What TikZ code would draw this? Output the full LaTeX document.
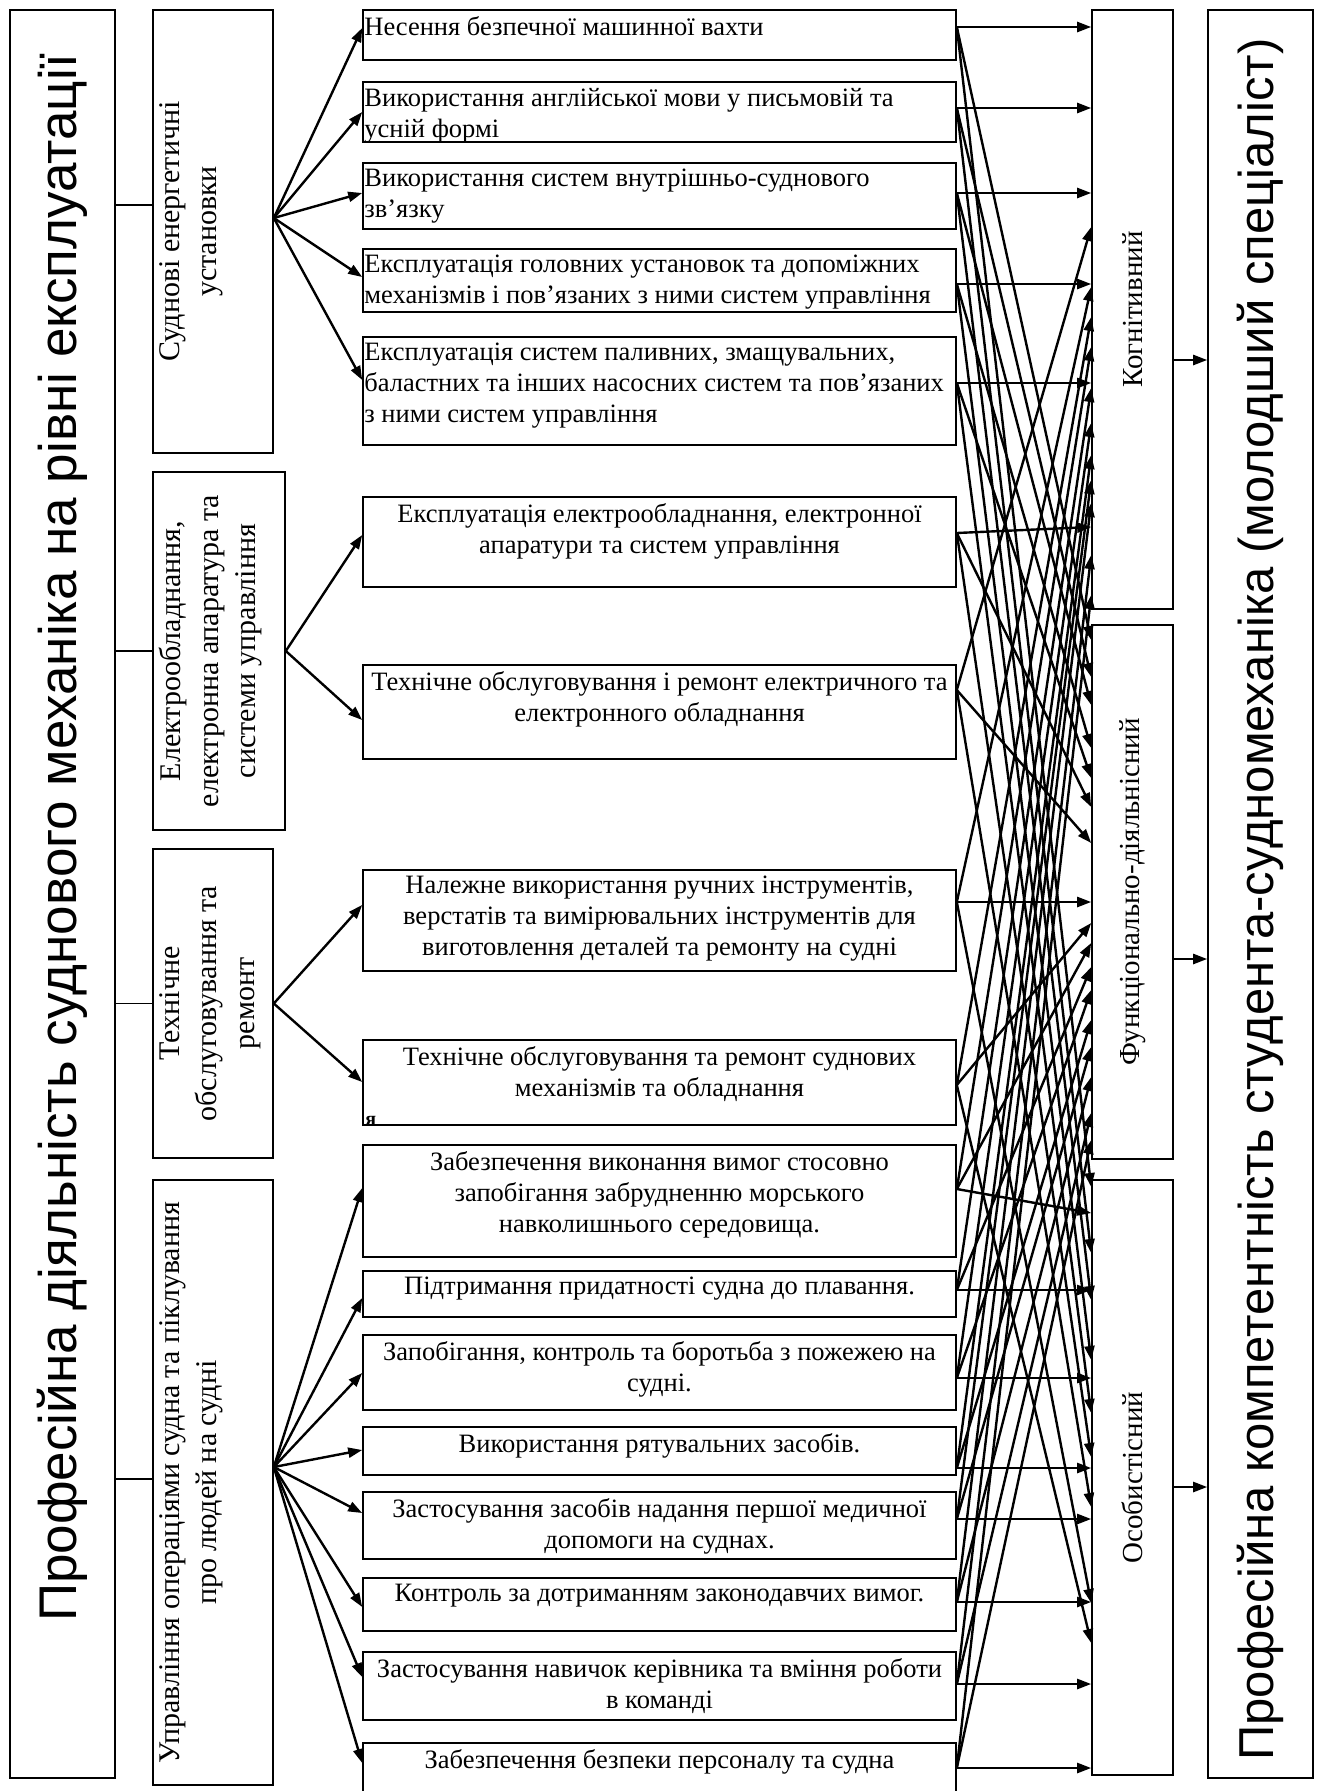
\documentclass[tikz,border=0pt]{standalone}
\usepackage{fontspec}
\setmainfont{Liberation Serif}
\newfontfamily\headfont{Liberation Sans}
\usetikzlibrary{arrows.meta, positioning}
\tikzset{
	box/.style={draw, line width=1.6pt, inner sep=0pt}
}
\tikzset{
	itemtext/.style={inner xsep=0pt, inner ysep=0pt, font=\fontsize{26.5}{31}\selectfont}
}
\tikzset{
	grouptext/.style={rotate=90, anchor=north, align=center, inner sep=0pt, font=\fontsize{30}{37.5}\selectfont},
	comptext/.style={rotate=90, inner sep=0pt, font=\fontsize{29}{34}\selectfont},
	headtext/.style={rotate=90, inner sep=0pt, font=\headfont\fontsize{49}{56}\selectfont}
}
\tikzset{
	wire/.style={line width=1.6pt},
	link/.style={line width=2.4pt, -{Triangle[length=14pt,width=10pt]}}
}

\begin{document}
\begin{tikzpicture}[x=1pt,y=-1pt]
      \useasboundingbox (0,0) rectangle (1320,1791);
      % activity (left) and competence (right)
      \node[box, minimum width=105pt, minimum height=1768pt] (activity) at (62.5,894) {};
      \node[headtext, font=\headfont\fontsize{53}{60}\selectfont] (activity-t) at (activity.center |- 0,838) {Професійна діяльність суднового механіка на рівні експлуатації};
      \node[box, minimum width=105pt, minimum height=1768pt] (compet) at (1260.5,894) {};
      \node[headtext, anchor=west] (compet-t) at ([yshift=18pt]compet.south) {Професійна компетентність студента-судномеханіка (молодший спеціаліст)};
      % groups of functions
      \node[box, minimum width=120pt, minimum height=443pt] (power) at (213,231.5) {};
      \node[box, minimum width=132pt, minimum height=358pt] (elec) at (219,651) {};
      \node[box, minimum width=120pt, minimum height=309pt] (repair) at (213,1003.5) {};
      \node[box, minimum width=120pt, minimum height=605pt] (ship) at (213,1482.5) {};
      \node[grouptext] (power-t) at ([xshift=7pt]power.west) {Суднові енергетичні\\установки};
      \node[grouptext] (elec-t) at ([xshift=7pt]elec.west) {Електрообладнання,\\електронна апаратура та\\системи управління};
      \node[grouptext] (repair-t) at ([xshift=7pt]repair.west) {Технічне\\обслуговування та\\ремонт};
      \node[grouptext] (ship-t) at ([xshift=7pt]ship.west) {Управління операціями судна та піклування\\про людей на судні};
      \draw[wire] (activity.east |- 0,205) -- (power.west |- 0,205);
      \draw[wire] (activity.east |- elec.west) -- (elec.west);
      \draw[wire] (activity.east |- repair.west) -- (repair.west);
      \draw[wire] (activity.east |- 0,1479) -- (ship.west |- 0,1479);
      % components
      \node[box, minimum width=81pt, minimum height=599pt] (cogn) at (1132.5,309.5) {};
      \node[box, minimum width=81pt, minimum height=534pt] (func) at (1132.5,892) {};
      \node[box, minimum width=81pt, minimum height=595pt] (pers) at (1132.5,1477.5) {};
      \node[comptext] (cogn-t) at (cogn) {Когнітивний};
      \node[comptext] (func-t) at (func) {Функціонально-діяльнісний};
      \node[comptext] (pers-t) at (pers) {Особистісний};
      \draw[link] (cogn.east |- 0,360) -- (compet.west |- 0,360);
      \draw[link] (func.east |- 0,959) -- (compet.west |- 0,959);
      \draw[link] (pers.east |- 0,1487) -- (compet.west |- 0,1487);
      % functions (middle column): box top/bottom, arrow in (l), arrows out (r)
      \foreach \n/\t/\b/\li/\ro in {1/10/60/28/27, 2/82/142/112/108, 3/163/229/193/193, 4/249/312/277/284,
          5/337/445/380/383, 6/497/587/535/533, 7/665/759/720/690, 8/870/971/905/902,
          9/1040/1125/1082/1085, 10/1145/1257/1188/1189, 11/1271/1317/1298/1290, 12/1335/1410/1373/1378,
          13/1427/1475/1450/1468, 14/1492/1559/1513/1519, 15/1578/1631/1607/1602, 16/1652/1720/1677/1684,
          17/1743/1796/1763/1768} {
        \node[box, minimum width=593pt, minimum height={\b pt-\t pt}] (m\n) at (659.5,{(\t+\b)/2}) {};
        \coordinate (l\n) at (m\n.west |- 0,\li);
        \coordinate (r\n) at (m\n.east |- 0,\ro);
      }
      \node[itemtext, align=left, below right=7pt and 2pt of m1.north west] (t1) {Несення безпечної машинної вахти};
      \node[itemtext, align=left, below right=7pt and 2pt of m2.north west] (t2) {Використання англійської мови у письмовій та\\усній формі};
      \node[itemtext, align=left, below right=7pt and 2pt of m3.north west] (t3) {Використання систем внутрішньо-суднового\\зв’язку};
      \node[itemtext, align=left, below right=7pt and 2pt of m4.north west] (t4) {Експлуатація головних установок та допоміжних\\механізмів і пов’язаних з ними систем управління};
      \node[itemtext, align=left, below right=7pt and 2pt of m5.north west] (t5) {Експлуатація систем паливних, змащувальних,\\баластних та інших насосних систем та пов’язаних\\з ними систем управління};
      \node[itemtext, align=center, below=7pt of m6.north] (t6) {Експлуатація електрообладнання, електронної\\апаратури та систем управління};
      \node[itemtext, align=center, below=7pt of m7.north] (t7) {Технічне обслуговування і ремонт електричного та\\електронного обладнання};
      \node[itemtext, align=center, below=7pt of m8.north] (t8) {Належне використання ручних інструментів,\\верстатів та вимірювальних інструментів для\\виготовлення деталей та ремонту на судні};
      \node[itemtext, align=center, below=7pt of m9.north] (t9) {Технічне обслуговування та ремонт суднових\\механізмів та обладнання};
      \node[inner sep=0pt, anchor=south west, font=\fontsize{20}{20}\selectfont\bfseries] (t9a) at ([xshift=3pt]m9.south west) {я};
      \node[itemtext, align=center, below=7pt of m10.north] (t10) {Забезпечення виконання вимог стосовно\\запобігання забрудненню морського\\навколишнього середовища.};
      \node[itemtext, align=center, below=7pt of m11.north] (t11) {Підтримання придатності судна до плавання.};
      \node[itemtext, align=center, below=7pt of m12.north] (t12) {Запобігання, контроль та боротьба з пожежею на\\судні.};
      \node[itemtext, align=center, below=7pt of m13.north] (t13) {Використання рятувальних засобів.};
      \node[itemtext, align=center, below=7pt of m14.north] (t14) {Застосування засобів надання першої медичної\\допомоги на суднах.};
      \node[itemtext, align=center, below=7pt of m15.north] (t15) {Контроль за дотриманням законодавчих вимог.};
      \node[itemtext, align=center, below=7pt of m16.north] (t16) {Застосування навичок керівника та вміння роботи\\в команді};
      \node[itemtext, align=center, below=7pt of m17.north] (t17) {Забезпечення безпеки персоналу та судна};
      % fans from the groups
      \foreach \i in {1,...,5} {
        \draw[link] (power.east |- 0,218) -- (l\i);
      }
      \foreach \i in {6,7} {
        \draw[link] (elec.east) -- (l\i);
      }
      \foreach \i in {8,9} {
        \draw[link] (repair.east) -- (l\i);
      }
      \foreach \i in {10,...,17} {
        \draw[link] (ship.east |- 0,1467) -- (l\i);
      }
      % functions -> cognitive
      \foreach \i in {1,...,5} {
        \draw[link] (r\i) -- (cogn.west |- r\i);
      }
      \foreach \i/\y in {6/527, 7/227, 8/287, 9/317, 10/347, 11/388, 12/423, 13/455, 14/480, 15/503, 16/555, 17/595} {
        \draw[link] (r\i) -- (cogn.west |- 0,\y);
      }
      % functions -> functional
      \foreach \i/\y in {1/640, 2/677, 3/705, 4/748, 5/778, 6/807, 7/843, 9/923, 10/943, 11/967, 12/990, 13/1020, 14/1047, 15/1077, 16/1113, 17/1140} {
        \draw[link] (r\i) -- (func.west |- 0,\y);
      }
      \draw[link] (r8) -- (func.west |- r8);
      % functions -> personal
      \foreach \i/\y in {1/1187, 2/1253, 3/1300, 4/1360, 5/1413, 6/1457, 7/1507, 8/1603, 9/1643, 10/1213} {
        \draw[link] (r\i) -- (pers.west |- 0,\y);
      }
      \foreach \i in {11,...,17} {
        \draw[link] (r\i) -- (pers.west |- r\i);
      }
\end{tikzpicture}
\end{document}
